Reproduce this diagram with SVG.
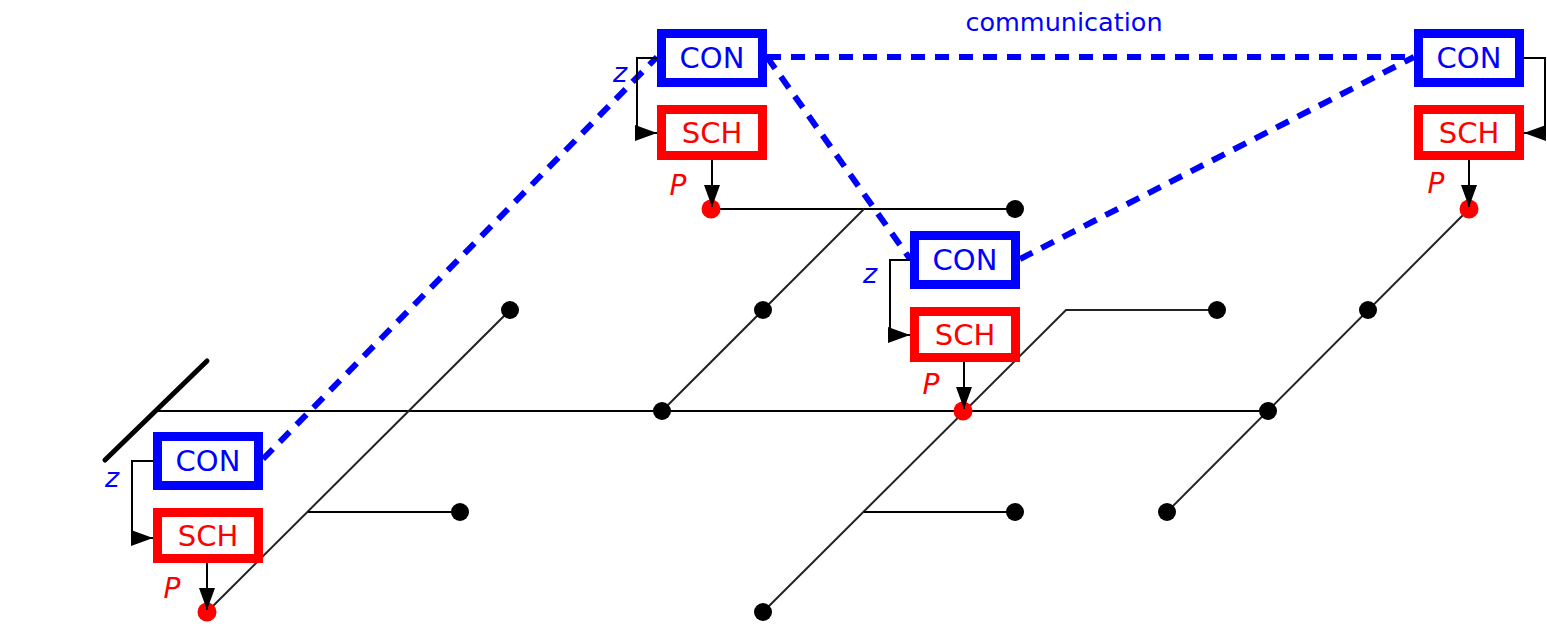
<svg xmlns="http://www.w3.org/2000/svg" width="1547" height="635" viewBox="0 0 1547 635">
  <defs>
    <style>
      .wire { stroke: #000; stroke-width: 2; fill: none; }
      .diag { stroke: #222; stroke-width: 2; fill: none; }
      .bus { stroke: #000; stroke-width: 5; stroke-linecap: round; }
      .dot { fill: #000; }
      .pdot { fill: #f00; }
      .comm { stroke: #00f; stroke-width: 6; stroke-dasharray: 14 10; fill: none; }
      .con { fill: #fff; stroke: #00f; stroke-width: 9; }
      .sch { fill: #fff; stroke: #f00; stroke-width: 9; }
      .lbl { font-family: "DejaVu Sans", Verdana, sans-serif; font-size: 29px; text-anchor: middle; }
      .con-t { fill: #00f; }
      .sch-t { fill: #f00; }
      .z { font-family: "DejaVu Sans", Verdana, sans-serif; font-style: italic; font-size: 27px; fill: #00f; text-anchor: middle; }
      .p { font-family: "DejaVu Sans", Verdana, sans-serif; font-style: italic; font-size: 28px; fill: #f00; text-anchor: middle; }
      .ctrl { stroke: #000; stroke-width: 2; fill: none; marker-end: url(#head); }
      .title { font-family: "DejaVu Sans", Verdana, sans-serif; font-size: 25.5px; fill: #00f; text-anchor: middle; }
    </style>
    <marker id="head" markerUnits="userSpaceOnUse" markerWidth="24" markerHeight="18" refX="22" refY="8" orient="auto">
      <path d="M0,0 L22,8 L0,16 Z" fill="#000"/>
    </marker>
    <!-- one controller / scheduler pair; origin = top-left of the CON box -->
    <g id="pair-boxes">
      <rect class="con" x="4.5" y="4.5" width="101" height="49"/>
      <text class="lbl con-t" x="55" y="39">CON</text>
      <rect class="sch" x="4.5" y="80.5" width="101" height="46"/>
      <text class="lbl sch-t" x="55" y="114">SCH</text>
    </g>
  </defs>

  <!-- grid network -->
  <g id="network">
    <line class="bus" x1="105" y1="460" x2="207" y2="361"/>
    <line class="wire" x1="157" y1="411" x2="1268" y2="411"/>
    <line class="wire" x1="711" y1="209" x2="1015" y2="209"/>
    <line class="diag" x1="207" y1="612" x2="510" y2="310"/>
    <line class="wire" x1="308" y1="512" x2="460" y2="512"/>
    <line class="diag" x1="662" y1="411" x2="864" y2="209"/>
    <polyline class="diag" points="763,612 1066,310 1217,310"/>
    <line class="wire" x1="864" y1="512" x2="1015" y2="512"/>
    <line class="diag" x1="1167" y1="512" x2="1469" y2="209"/>

    <circle class="dot" cx="510" cy="310" r="9"/>
    <circle class="dot" cx="460" cy="512" r="9"/>
    <circle class="dot" cx="662" cy="411" r="9"/>
    <circle class="dot" cx="763" cy="310" r="9"/>
    <circle class="dot" cx="1015" cy="209" r="9"/>
    <circle class="dot" cx="1217" cy="310" r="9"/>
    <circle class="dot" cx="1015" cy="512" r="9"/>
    <circle class="dot" cx="763" cy="612" r="9"/>
    <circle class="dot" cx="1167" cy="512" r="9"/>
    <circle class="dot" cx="1268" cy="411" r="9"/>
    <circle class="dot" cx="1368" cy="310" r="9"/>

    <circle class="pdot" cx="207" cy="612" r="9.5"/>
    <circle class="pdot" cx="711" cy="209" r="9.5"/>
    <circle class="pdot" cx="963" cy="411" r="9.5"/>
    <circle class="pdot" cx="1469" cy="209" r="9.5"/>
  </g>

  <!-- controller communication links -->
  <g id="connectors">
    <line class="comm" x1="263" y1="459" x2="657" y2="57"/>
    <line class="comm" x1="767" y1="57" x2="1414" y2="57"/>
    <line class="comm" x1="767" y1="57" x2="910" y2="259"/>
    <line class="comm" x1="1020" y1="259" x2="1414" y2="57"/>
    <text class="title" x="1064" y="31">communication</text>
  </g>

  <g id="node-a" transform="translate(657,29)">
    <use href="#pair-boxes"/>
    <text class="z" x="-37" y="53">z</text>
    <text class="p" x="21" y="166">P</text>
    <polyline class="ctrl" points="0,29 -20,29 -20,104 0,104"/>
    <line class="ctrl" x1="55" y1="131" x2="55" y2="178"/>
  </g>

  <g id="node-b" transform="translate(910,231)">
    <use href="#pair-boxes"/>
    <text class="z" x="-40" y="52">z</text>
    <text class="p" x="21" y="163">P</text>
    <polyline class="ctrl" points="0,29 -20,29 -20,104 0,104"/>
    <line class="ctrl" x1="54" y1="131" x2="54" y2="178"/>
  </g>

  <g id="node-c" transform="translate(1414,29)">
    <use href="#pair-boxes"/>
    <text class="p" x="22" y="164">P</text>
    <polyline class="ctrl" points="110,29 131,29 131,104 110,104"/>
    <line class="ctrl" x1="55" y1="131" x2="55" y2="178"/>
  </g>

  <g id="node-d" transform="translate(153,432)">
    <use href="#pair-boxes"/>
    <text class="z" x="-41" y="55">z</text>
    <text class="p" x="19" y="166">P</text>
    <polyline class="ctrl" points="0,29 -21,29 -21,106 0,106"/>
    <line class="ctrl" x1="54" y1="131" x2="54" y2="178"/>
  </g>
</svg>
